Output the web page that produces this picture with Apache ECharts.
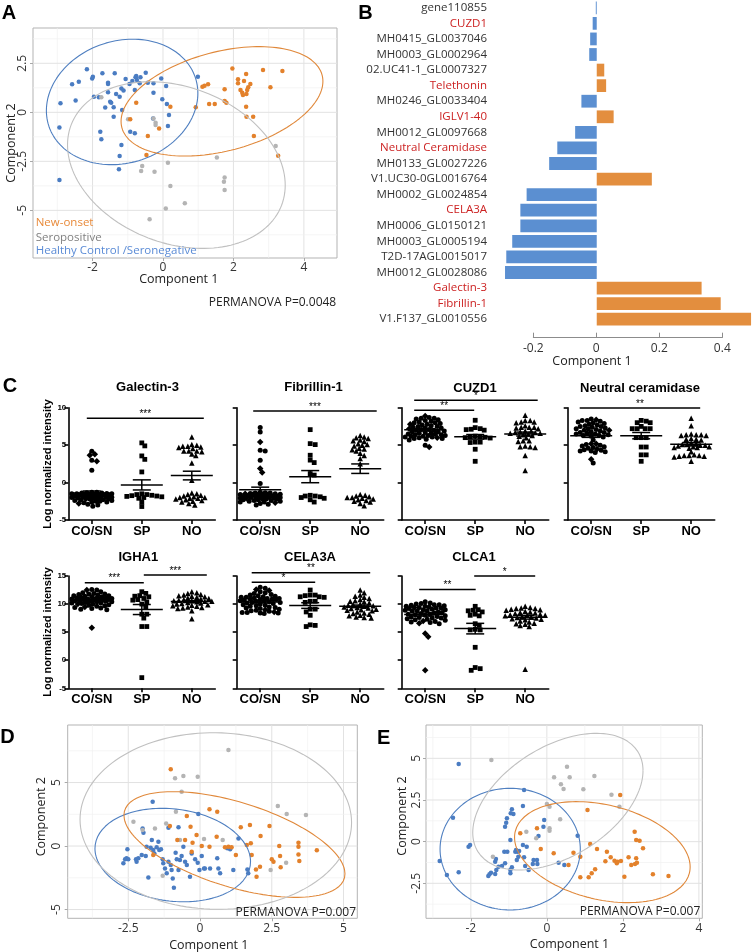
<!DOCTYPE html>
<html><head><meta charset="utf-8">
<script src="https://cdn.jsdelivr.net/npm/echarts@6/dist/echarts.min.js"></script>
<style>html,body{margin:0;padding:0;background:#fff}#c{width:752px;height:952px}</style>
</head><body><div id="c"></div>
<script>
// ================= DATA =================
// Panel A (PLS-DA scores)
const aBlue = [[-2.16,2.19],[-2.58,1.43],[-2.39,1.56],[-2.91,0.46],[-2.48,0.60],[-2.94,-0.78],[-2.94,-3.45],[-2.01,1.73],[-1.99,1.82],[-1.72,1.99],[-1.96,0.80],[-1.82,0.77],[-1.56,1.51],[-1.56,1.45],[-1.37,1.99],[-1.56,1.02],[-1.64,0.24],[-1.50,0.54],[-1.47,0.49],[-1.33,0.94],[-1.40,0.26],[-1.23,0.80],[-1.18,1.22],[-1.12,1.11],[-1.06,1.70],[-0.95,1.45],[-0.87,1.60],[-0.80,1.14],[-0.78,1.79],[-0.74,1.65],[-0.76,1.85],[-0.64,1.79],[-0.66,1.48],[-0.49,2.02],[-0.43,1.51],[-0.27,1.48],[-0.27,1.00],[-0.05,1.73],[-0.02,0.66],[0.09,1.34],[0.11,0.43],[0.17,-0.14],[0.14,-0.70],[0.99,1.82],[-1.40,-0.22],[-1.78,-0.99],[-1.75,-1.38],[-1.18,-1.67],[-1.23,-2.23],[-1.25,-2.91],[-0.93,-0.99],[-0.80,-1.07],[-0.28,-0.31],[-1.16,0.12]];
const aOrange = [[-0.76,0.49],[-0.93,-0.36],[-0.43,-1.21],[-0.47,-2.18],[-0.11,-0.82],[0.21,0.29],[0.93,0.26],[1.12,1.31],[1.18,1.36],[1.28,1.43],[1.31,0.43],[1.47,0.43],[1.75,1.17],[1.75,0.58],[1.80,0.49],[1.97,2.24],[2.13,1.68],[2.20,1.14],[2.25,1.00],[2.13,1.48],[2.30,1.60],[2.36,1.96],[2.37,0.94],[2.39,1.14],[2.42,1.28],[2.48,1.45],[2.36,0.29],[2.37,-0.22],[2.56,-0.22],[2.58,-1.21],[2.84,2.16],[3.05,1.28],[3.39,2.11],[3.27,-2.21],[2.27,0.88]];
const aGray = [[-1.75,0.77],[-0.99,-0.36],[-0.27,-0.31],[-0.21,-0.53],[-0.21,-0.65],[-0.59,-2.74],[-0.62,-2.99],[-0.24,-3.03],[0.14,-2.57],[0.21,-3.76],[0.08,-4.90],[-0.38,-5.46],[0.62,-4.64],[1.53,-2.31],[1.75,-3.32],[1.73,-3.54],[1.75,-3.96],[3.20,-1.72]];
// ellipse params: [cx, cy, halfWidthX, halfHeightY, phase(deg)]
const aEllBlue = [-1.16, 0.53, 2.15, 3.2, 82];
const aEllOrange = [1.675, 0.56, 2.865, 2.79, 68.5];
const aEllGray = [0.38, -2.69, 3.09, 4.25, 104];
const aXTicks = [-2, 0, 2, 4], aXMinor = [-3, -1, 1, 3];
const aYTicks = [-5, -2.5, 0, 2.5], aYMinor = [-6.25, -3.75, -1.25, 1.25, 3.75];

// Panel B (loadings)
const bCats = ['gene110855','CUZD1','MH0415_GL0037046','MH0003_GL0002964','02.UC41-1_GL0007327','Telethonin','MH0246_GL0033404','IGLV1-40','MH0012_GL0097668','Neutral Ceramidase','MH0133_GL0027226','V1.UC30-0GL0016764','MH0002_GL0024854','CELA3A','MH0006_GL0150121','MH0003_GL0005194','T2D-17AGL0015017','MH0012_GL0028086','Galectin-3','Fibrillin-1','V1.F137_GL0010556'];
const bVals = [-0.003,-0.013,-0.021,-0.024,0.024,0.030,-0.049,0.054,-0.069,-0.126,-0.152,0.176,-0.224,-0.244,-0.244,-0.270,-0.289,-0.293,0.335,0.396,0.493];
const bRed = ['CUZD1','Telethonin','IGLV1-40','Neutral Ceramidase','CELA3A','Galectin-3','Fibrillin-1'];
const bTicks = [-0.2, 0, 0.2, 0.4];

// Panel C (log normalized intensity)
const grpNames = ['CO/SN','SP','NO'];
const galCO = [4.18,2.98,1.65,-1.3,-1.3,-1.35,-1.4,-1.4,-1.45,-1.5,-1.5,-1.5,-1.55,-1.6,-1.6,-1.65,-1.7,-1.7,-1.75,-1.8,-1.8,-1.85,-1.9,-1.9,-1.95,-2.0,-2.0,-2.05,-2.1,-2.1,-2.15,-2.2,-2.3,-2.3,-2.4,-2.4,-2.5,-2.5,-2.6,-2.6,-2.7,-2.9,-3.0,-3.15];
const galSN = [3.78,3.65,2.85,-1.6,-2.2,-2.8];
const galSP = [5.3,4.9,3.56,3.1,1.42,-1.5,-1.6,-1.6,-1.7,-1.75,-1.8,-1.85,-1.9,-2.0,-2.1,-2.6,-3.2];
const galNO = [6.1,5.1,5.0,4.85,4.85,4.76,4.67,4.54,4.2,4.2,4.1,4.2,3.8,3.6,2.6,0.3,-1.4,-1.5,-1.6,-1.7,-1.8,-1.9,-2.0,-2.0,-2.1,-2.1,-2.2,-2.3,-2.4,-2.5,-2.6,-2.8,-3.0];
const fibCO = [7.34,6.76,4.3,4.2,2.98,-0.13,-1.3,-1.35,-1.4,-1.4,-1.45,-1.5,-1.55,-1.6,-1.6,-1.65,-1.7,-1.7,-1.75,-1.8,-1.8,-1.85,-1.9,-1.9,-1.95,-2.0,-2.0,-2.0,-2.05,-2.1,-2.15,-2.2,-2.2,-2.3,-2.3,-2.4,-2.4,-2.5,-2.5,-2.6,-2.6,-2.8,-2.9,-3.0];
const fibSN = [5.42,1.87,1.34,-1.5,-2.1,-2.7];
const fibSP = [7.07,5.2,5.07,3.65,3.0,2.67,1.2,1.0,-1.7,-1.8,-1.8,-1.9,-2.0,-2.1,-2.3,-2.6];
const fibNO = [6.3,6.1,6.0,5.9,5.7,5.6,5.5,5.2,5.1,5.0,4.9,4.6,4.5,4.4,4.2,3.9,3.6,3.2,2.5,-1.6,-1.7,-1.8,-1.9,-2.0,-2.0,-2.1,-2.2,-2.3,-2.4,-2.5,-2.6,-2.8,-3.1];
const cuzCO = [8.7,8.6,8.6,8.5,8.4,8.3,8.2,8.1,8.0,8.0,7.9,7.8,7.7,7.6,7.5,7.5,7.4,7.3,7.3,7.1,7.1,7.0,7.0,6.9,6.8,6.8,6.7,6.6,6.6,6.5,6.4,6.4,6.3,6.3,6.2,6.2,6.1,6.1,6.0,5.9,5.9,5.8,5.7,4.98];
const cuzSN = [8.9,7.8,7.2,6.5,6.0,4.76];
const cuzSP = [8.32,7.34,7.2,7.12,7.07,7.0,6.2,6.1,6.1,6.05,6.0,5.95,5.4,5.4,5.35,4.45,2.84];
const cuzNO = [9.0,8.3,8.3,8.1,8.1,8.0,7.6,7.4,7.4,7.4,7.3,7.2,6.9,6.9,6.8,6.7,6.7,6.6,6.6,6.5,6.4,6.3,6.2,6.0,5.6,5.6,5.5,4.9,4.8,4.8,4.7,3.6,1.6];
const ncCO = [8.5,8.3,8.3,8.2,8.1,8.0,7.9,7.8,7.7,7.6,7.5,7.5,7.4,7.3,7.2,7.2,7.1,7.0,6.9,6.8,6.7,6.7,6.6,6.5,6.5,6.4,6.3,6.3,6.2,6.1,5.7,5.1,5.0,4.9,4.8,4.7,4.6,4.4,4.3,4.2,4.2,4.1,4.0,2.6];
const ncSN = [8.4,7.0,5.2,5.2,4.5,3.1];
const ncSP = [8.3,8.2,8.0,8.0,7.5,7.2,7.2,7.2,7.2,6.0,6.0,6.0,4.75,4.75,3.7,3.7,2.84];
const ncNO = [8.6,7.6,6.5,6.4,6.4,6.4,6.3,6.3,5.9,5.8,5.8,5.7,5.3,5.2,5.1,5.1,5.0,5.0,4.9,4.8,4.8,4.7,4.7,4.6,4.1,3.7,3.6,3.6,3.6,3.5,3.5,3.4,2.84];
const igCO = [12.6,12.5,12.2,12.0,11.9,11.8,11.8,11.7,11.6,11.5,11.5,11.4,11.3,11.3,11.2,11.1,11.1,11.0,11.0,10.9,10.9,10.9,10.8,10.8,10.7,10.7,10.6,10.6,10.5,10.5,10.4,10.4,10.3,10.2,10.2,10.1,10.0,9.9,9.8,9.7,9.6,9.4,9.3,9.2,9.1,9.0];
const igSN = [12.5,10.0,9.5,5.8];
const igSP = [12.2,11.9,11.5,11.4,11.3,11.0,10.8,10.7,10.4,10.0,9.5,8.2,8.2,7.5,6.0,6.0,-3.1];
const igNO = [12.2,12.0,11.9,11.7,11.6,11.5,11.4,11.3,11.2,11.1,11.0,10.9,10.8,10.7,10.6,10.6,10.5,10.5,10.4,10.3,10.2,10.1,10.0,9.9,9.8,9.7,9.6,9.5,9.4,9.3,9.2,8.8,7.4];
const ceCO = [13.0,12.8,12.2,12.0,11.9,11.7,11.6,11.5,11.4,11.3,11.2,11.2,11.1,11.0,11.0,10.9,10.9,10.8,10.8,10.7,10.6,10.6,10.5,10.4,10.3,10.3,10.2,10.1,10.0,9.9,9.8,9.7,9.6,9.5,9.4,9.3,9.2,9.1,8.9,8.8,8.7,8.5,8.5,8.4,8.4,8.3];
const ceSN = [12.6,12.4,9.0,8.6];
const ceSP = [12.5,11.6,11.6,11.5,11.3,11.3,11.2,10.5,10.5,10.3,9.1,9.1,8.0,8.6,6.2,6.0,6.3];
const ceNO = [12.5,12.0,11.6,11.4,11.2,11.0,10.8,10.6,10.5,10.4,10.2,10.0,9.9,9.8,9.7,9.6,9.5,9.4,9.3,9.2,9.1,9.0,8.9,8.8,8.6,8.4,8.3,8.2,8.0,7.9,7.7,7.6,7.5];
const clCO = [10.4,10.2,10.1,10.0,9.9,9.9,9.8,9.7,9.6,9.6,9.5,9.3,9.3,9.2,9.1,9.0,9.0,8.9,8.8,8.8,8.7,8.6,8.5,8.4,8.3,8.2,8.2,8.1,8.0,7.9,7.8,7.7,7.6,7.5,7.5,7.4,7.3,7.2,7.1,6.9,6.8,6.7,6.5,9.4];
const clSN = [9.4,7.0,6.6,4.76,4.17,-1.8];
const clSP = [9.6,9.0,8.9,8.8,8.6,8.2,8.0,7.9,6.5,6.2,5.5,5.4,5.4,2.3,-1.3,-1.8,-1.5];
const clNO = [9.6,9.4,9.3,9.2,9.2,9.1,9.0,8.9,8.7,8.6,8.5,8.4,8.3,8.2,8.1,8.0,8.0,7.9,7.8,7.7,7.6,7.5,7.4,7.3,7.2,7.0,6.8,6.6,6.5,6.4,6.2,6.0,-1.6];
// significance brackets: [fromGroup, toGroup, y, label]
const galSig = [[-0.10, 2.24, 8.6, '***']];
const fibSig = [[-0.14, 2.33, 9.56, '***']];
const cuzSig = [[-0.22, 2.25, 11.0, '*'], [-0.22, 0.98, 9.65, '**']];
const ncSig = [[-0.23, 2.18, 9.96, '**']];
const igSig = [[-0.14, 1.04, 13.8, '***'], [1.04, 2.30, 15.2, '***']];
const ceSig = [[-0.17, 2.20, 15.6, '**'], [-0.17, 1.10, 13.9, '*']];
const clSig = [[-0.12, 1.01, 12.6, '**'], [0.98, 2.20, 15.0, '*']];
const cRow1Y = [-5, 10], cRow2Y = [-5, 15];

// Panel D
const dBlue = [[-2.67,-1.36],[-2.61,-1.05],[-2.56,-0.97],[-2.50,-1.05],[-2.53,-0.26],[-2.23,-1.05],[-2.21,-1.23],[-2.15,-0.97],[-2.03,-0.71],[-1.89,-0.79],[-1.86,-0.05],[-1.80,-2.47],[-1.72,-0.13],[-1.68,0.47],[-1.63,-0.31],[-1.59,-0.58],[-1.51,-0.10],[-1.42,-0.31],[-1.36,-0.26],[-1.30,-1.05],[-1.28,-1.36],[-1.22,-1.76],[-1.16,-2.15],[-1.10,-1.23],[-1.02,-1.50],[-0.99,-1.89],[-0.95,-2.55],[-0.91,-3.28],[-0.85,-0.52],[-0.81,-1.05],[-0.75,-1.89],[-0.70,-1.10],[-0.64,-0.79],[-0.58,-0.05],[-0.52,-1.23],[-0.46,-1.50],[-0.35,-2.41],[-0.29,-0.58],[-0.17,-1.05],[-0.08,-1.31],[-0.06,2.52],[-0.02,-1.89],[0.06,-0.79],[0.14,-1.76],[0.17,-1.76],[0.35,-1.76],[0.64,-1.76],[0.70,-2.15],[0.95,-0.18],[1.05,-0.26],[1.16,-1.89],[1.65,-1.84],[1.68,-2.15],[1.34,0.60],[-1.65,3.49],[-2.00,1.39],[-1.97,1.05],[-1.45,0.34],[-1.10,1.44],[-0.75,1.47],[0.60,-0.97]];
const dOrange = [[-1.02,6.04],[-0.46,2.36],[0.33,2.89],[0.60,2.70],[-0.79,0.47],[-0.52,0.47],[-0.29,-0.45],[-0.26,0.26],[-0.12,0.87],[0.06,0.0],[0.33,-0.05],[0.58,0.73],[0.87,-0.10],[0.99,-0.05],[1.10,-0.10],[1.25,-0.71],[1.42,1.47],[1.63,0.08],[1.74,1.65],[1.77,0.21],[1.80,-0.71],[1.95,-1.84],[1.97,-2.41],[2.09,-1.63],[2.11,0.79],[2.42,1.57],[2.50,-1.05],[2.56,-1.23],[2.76,0.0],[2.79,-0.79],[2.81,-1.68],[3.43,0.26],[3.43,-0.05],[3.43,-0.66],[3.46,-1.18],[4.07,-0.34],[-1.63,-0.71],[-1.05,1.57],[-0.33,1.52]];
const dGray = [[0.99,7.56],[-0.87,5.33],[-0.58,5.51],[-0.08,5.46],[-0.64,4.28],[-1.18,1.78],[-1.57,1.39],[-2.00,1.26],[-2.32,1.92],[-0.70,0.47],[0.14,0.55],[0.79,0.47],[2.71,3.15],[3.02,2.52],[3.69,2.44],[2.46,-1.89],[3.00,-1.31],[-1.30,-2.34],[-0.84,2.70]];
const dEllBlue = [-0.95, -0.71, 2.71, 3.68, 98];
const dEllOrange = [1.2, 0.12, 3.85, 4.16, 123.6];
const dEllGray = [0.55, 1.97, 4.73, 6.95, 91];
const dXTicks = [-2.5, 0, 2.5, 5], dXMinor = [-3.75, -1.25, 1.25, 3.75];
const dYTicks = [-5, 0, 5], dYMinor = [-2.5, 2.5, 7.5];

// Panel E
const eBlue = [[-2.32,4.66],[-2.47,1.44],[-2.82,-1.16],[-2.63,-2.0],[-2.32,-1.84],[-2.06,-0.3],[-2.02,-0.2],[-1.54,-2.06],[-1.51,-1.96],[-1.47,-1.86],[-1.36,-1.94],[-1.33,-1.70],[-1.27,-1.50],[-1.36,-1.20],[-1.34,-1.04],[-1.18,-1.46],[-1.10,-1.30],[-0.96,-1.70],[-0.96,-1.90],[-0.92,-1.54],[-1.12,-0.60],[-1.10,0.90],[-1.07,1.14],[-1.05,1.40],[-0.95,1.70],[-0.92,1.94],[-0.88,1.66],[-0.96,0.10],[-0.83,-0.60],[-0.77,-0.60],[-0.79,-1.10],[-0.75,-0.90],[-0.73,-0.56],[-0.63,-0.20],[-0.60,-0.94],[-0.57,-1.46],[-0.53,-0.30],[-0.48,-1.70],[-0.63,2.14],[-0.60,3.10],[-0.35,-1.10],[-0.26,-1.10],[-0.25,-1.34],[-0.37,-1.34],[-0.22,0.34],[-0.09,0.90],[-0.07,1.30],[0.31,-1.26],[0.46,-1.40],[0.81,0.36],[-0.81,-0.5],[-1.04,-0.6]];
const eOrange = [[-0.70,0.50],[-0.26,0.80],[-0.16,-0.44],[0.18,-0.70],[0.57,-1.40],[0.70,-0.66],[0.88,-0.90],[1.07,1.90],[1.14,-0.14],[1.18,-1.90],[1.27,-1.66],[1.32,-0.44],[1.10,-2.14],[0.88,-2.14],[1.54,-1.18],[1.58,-0.60],[1.68,-0.94],[1.78,-1.14],[1.84,-1.30],[1.86,-1.20],[1.95,-1.16],[1.93,2.80],[2.04,-2.10],[2.15,-0.94],[2.22,-1.40],[2.32,-1.34],[2.37,-1.26],[2.31,0.60],[2.35,0.10],[2.44,0.06],[2.53,-0.40],[2.35,-1.00],[2.79,-1.96],[3.20,-2.06]];
const eGray = [[-1.46,4.90],[0.53,4.50],[0.19,3.86],[0.60,3.86],[0.37,3.44],[0.44,3.16],[1.25,3.94],[0.96,3.14],[1.70,2.82],[1.91,2.10],[0.0,2.26],[0.07,2.10],[0.07,0.80],[0.07,0.66],[0.35,1.34],[-0.28,0.20],[-0.54,0.60],[-1.42,-0.90]];
const eEllBlue = [-0.965, -0.45, 1.845, 3.65, 90];
const eEllOrange = [1.46, -0.63, 2.31, 3.03, 107];
const eEllGray = [0.29, 2.4, 2.24, 4.1, 63];
const eXTicks = [-2, 0, 2, 4], eXMinor = [-3, -1, 1, 3];
const eYTicks = [-2.5, 0, 2.5, 5], eYMinor = [-3.75, -1.25, 1.25, 3.75, 6.25];

// ================= STYLE / BUILD =================
const FONT = "'Open Sans', sans-serif";
const ARIAL = "'Liberation Sans', Arial, sans-serif";
const ORANGE = '#E3812B', BLUE = '#4A7CC2', GRAY = '#B4B4B4';
const EL_OR = '#E0883A', EL_BL = '#4F7FC0', EL_GR = '#C0C0C0';
const BAR_BL = '#5B8FD1', BAR_OR = '#E38E3E', RED = '#CC2222';

const grids = [], xAxes = [], yAxes = [], series = [], graphics = [];

function ellipsePts(p) {
  const [cx, cy, A, B, ph] = p; const r = ph * Math.PI / 180; const out = [];
  for (let i = 0; i <= 144; i++) { const t = i / 144 * 2 * Math.PI; out.push([cx + A * Math.cos(t), cy + B * Math.cos(t - r)]); }
  return out;
}

function ggPanel(box, xr, yr, xt, yt, xm, ym, mX, mY) {
  const gi = grids.length;
  grids.push({ left: box[0], top: box[1], width: box[2], height: box[3], show: true, borderColor: '#B3B3B3', borderWidth: 1, backgroundColor: '#fff' });
  const lab = { color: '#333', fontFamily: FONT, fontSize: 12 };
  xAxes.push({ gridIndex: gi, type: 'value', min: xr[0], max: xr[1], axisLine: { show: false, onZero: false }, splitLine: { show: false },
    axisTick: { show: true, customValues: xt, length: 3, lineStyle: { color: '#A8A8A8' } },
    axisLabel: Object.assign({ customValues: xt, margin: mX, formatter: v => String(v) }, lab) });
  yAxes.push({ gridIndex: gi, type: 'value', min: yr[0], max: yr[1], axisLine: { show: false, onZero: false }, splitLine: { show: false },
    axisTick: { show: true, customValues: yt, length: 3, lineStyle: { color: '#A8A8A8' } },
    axisLabel: Object.assign({ customValues: yt, margin: mY, rotate: 90, formatter: v => String(v) }, lab) });
  const gl = [];
  xt.forEach(v => gl.push([v, yr[0], 0, 1])); xm.forEach(v => gl.push([v, yr[0], 0, 0]));
  yt.forEach(v => gl.push([xr[0], v, 1, 1])); ym.forEach(v => gl.push([xr[0], v, 1, 0]));
  series.push({ type: 'custom', xAxisIndex: gi, yAxisIndex: gi, data: gl, silent: true, z: 0,
    renderItem: (params, api) => {
      const cs = params.coordSys; const p = api.coord([api.value(0), api.value(1)]);
      const isY = api.value(2), maj = api.value(3);
      const style = { stroke: maj ? '#E2E2E2' : '#F1F1F1', lineWidth: maj ? 1 : 0.7 };
      return isY ? { type: 'line', shape: { x1: cs.x, y1: p[1], x2: cs.x + cs.width, y2: p[1] }, style }
                 : { type: 'line', shape: { x1: p[0], y1: cs.y, x2: p[0], y2: cs.y + cs.height }, style };
    } });
  return gi;
}
function addPoints(gi, name, data, color) {
  series.push({ type: 'scatter', name, xAxisIndex: gi, yAxisIndex: gi, data, symbolSize: 4.5, itemStyle: { color, opacity: 1 }, z: 2, silent: true });
}
function addEllipse(gi, p, color) {
  series.push({ type: 'line', xAxisIndex: gi, yAxisIndex: gi, data: ellipsePts(p), showSymbol: false, symbol: 'none', lineStyle: { color, width: 1.1 }, z: 3, silent: true });
}

// beeswarm layout (pixel units) computed from the values
function swarm(vals, pxY, d, maxHalf) {
  const idx = vals.map((v, i) => i).sort((a, b) => vals[b] - vals[a]);
  const placed = [], off = new Array(vals.length);
  for (const i of idx) {
    const y = vals[i] * pxY; let best = 0, bestScore = -1;
    for (let k = 0; k <= 2 * maxHalf; k++) {
      const o = (k % 2 === 1 ? 1 : -1) * Math.ceil(k / 2);
      let minD = Infinity;
      for (const q of placed) { const dx = o - q[0], dy = y - q[1]; const dd = Math.sqrt(dx * dx + dy * dy); if (dd < minD) minD = dd; }
      if (minD >= d) { best = o; bestScore = minD; break; }
      if (minD > bestScore) { bestScore = minD; best = o; }
    }
    placed.push([best, y]); off[i] = best;
  }
  return off;
}
function meanSem(v) {
  const n = v.length, m = v.reduce((a, b) => a + b, 0) / n;
  const sd = Math.sqrt(v.reduce((a, b) => a + (b - m) * (b - m), 0) / (n - 1));
  return [m, sd / Math.sqrt(n)];
}

const PX_CAT = 50;
function prismPanel(left, top, yr, showLab, co, sn, sp, no, sig) {
  const gi = grids.length;
  grids.push({ left, top, width: 147, height: 112.3 });
  const ax = { color: '#000', width: 1.6 };
  xAxes.push({ gridIndex: gi, type: 'value', min: -0.47, max: 2.47, splitLine: { show: false },
    axisLine: { show: true, onZero: false, lineStyle: ax },
    axisTick: { show: true, customValues: [0, 1, 2], length: 4, lineStyle: ax },
    axisLabel: { customValues: [0, 1, 2], formatter: v => grpNames[Math.round(v)], margin: 5, fontFamily: ARIAL, fontWeight: 'bold', fontSize: 13, color: '#000' } });
  yAxes.push({ gridIndex: gi, type: 'value', min: yr[0], max: yr[1], interval: 5, splitLine: { show: false },
    axisLine: { show: true, onZero: false, lineStyle: ax },
    axisTick: { show: true, length: 4, lineStyle: ax },
    axisLabel: { show: showLab, margin: 2, fontFamily: ARIAL, fontWeight: 'bold', fontSize: 8, color: '#000' } });
  const pxY = 112.3 / (yr[1] - yr[0]);
  const D = 4.2, MH = 20;
  const coAll = co.concat(sn);
  const offCo = swarm(coAll, pxY, D, MH);
  const coData = [], snData = [];
  coAll.forEach((v, i) => (i < co.length ? coData : snData).push([offCo[i] / PX_CAT, v]));
  const offSp = swarm(sp, pxY, D, MH), offNo = swarm(no, pxY, D, MH);
  const spData = sp.map((v, i) => [1 + offSp[i] / PX_CAT, v]);
  const noData = no.map((v, i) => [2 + offNo[i] / PX_CAT, v]);
  const base = { type: 'scatter', xAxisIndex: gi, yAxisIndex: gi, silent: true, itemStyle: { color: '#000', opacity: 1 }, z: 2 };
  series.push(Object.assign({ data: coData, symbol: 'circle', symbolSize: 5 }, base));
  series.push(Object.assign({ data: snData, symbol: 'diamond', symbolSize: 6.5 }, base));
  series.push(Object.assign({ data: spData, symbol: 'rect', symbolSize: 4.8 }, base));
  series.push(Object.assign({ data: noData, symbol: 'triangle', symbolSize: 5.5 }, base));
  const stats = [coAll, sp, no].map((g, i) => { const [m, s] = meanSem(g); return [i, m, s]; });
  series.push({ type: 'custom', xAxisIndex: gi, yAxisIndex: gi, data: stats, silent: true, z: 4,
    renderItem: (params, api) => {
      const c = api.value(0), m = api.value(1), s = api.value(2);
      const st = { stroke: '#000', lineWidth: 1.5 };
      const L = (a, b) => { const p = api.coord(a), q = api.coord(b); return { type: 'line', shape: { x1: p[0], y1: p[1], x2: q[0], y2: q[1] }, style: st }; };
      return { type: 'group', children: [
        L([c - 0.42, m], [c + 0.42, m]), L([c, m - s], [c, m + s]),
        L([c - 0.18, m + s], [c + 0.18, m + s]), L([c - 0.18, m - s], [c + 0.18, m - s])] };
    } });
  series.push({ type: 'custom', xAxisIndex: gi, yAxisIndex: gi, data: sig.map(s => [s[0], s[2], s[1]]), silent: true, z: 4,
    renderItem: (params, api) => {
      const p = api.coord([api.value(0), api.value(1)]), q = api.coord([api.value(2), api.value(1)]);
      const lbl = sig[params.dataIndex][3];
      return { type: 'group', children: [
        { type: 'line', shape: { x1: p[0], y1: p[1], x2: q[0], y2: p[1] }, style: { stroke: '#000', lineWidth: 1.5 } },
        { type: 'text', style: { text: lbl, x: (p[0] + q[0]) / 2, y: p[1] - 4, align: 'center', verticalAlign: 'middle', textAlign: 'center', textVerticalAlign: 'middle', fontSize: 10, fontFamily: ARIAL, fill: '#000' } }] };
    } });
  return gi;
}

// ---- Panel A
const gA = ggPanel([33, 28, 304, 230], [-3.69, 4.94], [-7.43, 4.3], aXTicks, aYTicks, aXMinor, aYMinor, 4, 4);
addPoints(gA, 'Healthy Control /Seronegative', aBlue, BLUE);
addPoints(gA, 'Seropositive', aGray, GRAY);
addPoints(gA, 'New-onset', aOrange, ORANGE);
addEllipse(gA, aEllBlue, EL_BL); addEllipse(gA, aEllOrange, EL_OR); addEllipse(gA, aEllGray, EL_GR);

// ---- Panel B
const gB = grids.length;
grids.push({ left: 490, top: 0, width: 262, height: 327 });
xAxes.push({ gridIndex: gB, type: 'value', min: -0.341, max: 0.496, show: false, splitLine: { show: false } });
yAxes.push({ gridIndex: gB, type: 'category', data: bCats, inverse: true, axisLine: { show: false, onZero: false }, axisTick: { show: false },
  axisLabel: { interval: 0, margin: 3, fontFamily: FONT, fontSize: 11.5, color: (v) => bRed.includes(v) ? RED : '#333' } });
series.push({ type: 'bar', xAxisIndex: gB, yAxisIndex: gB, barCategoryGap: '18%', silent: true,
  data: bVals.map(v => ({ value: v, itemStyle: { color: v < 0 ? BAR_BL : BAR_OR } })) });
const gB2 = grids.length;
grids.push({ left: 533.3, top: 300, width: 189, height: 37.7 });
xAxes.push({ gridIndex: gB2, type: 'value', min: -0.2, max: 0.4, interval: 0.2, splitLine: { show: false },
  axisLine: { show: true, onZero: false, lineStyle: { color: '#8C8C8C' } },
  axisTick: { show: true, inside: true, length: 5, lineStyle: { color: '#8C8C8C' } },
  axisLabel: { customValues: bTicks, margin: 5, fontFamily: FONT, fontSize: 12, color: '#333', formatter: v => String(Math.round(v * 10) / 10) } });
yAxes.push({ gridIndex: gB2, type: 'value', show: false, min: 0, max: 1 });

// ---- Panel C
prismPanel(68.3, 407.7, cRow1Y, true, galCO, galSN, galSP, galNO, galSig);
prismPanel(236.7, 407.7, cRow1Y, false, fibCO, fibSN, fibSP, fibNO, fibSig);
prismPanel(401.7, 407.7, cRow1Y, false, cuzCO, cuzSN, cuzSP, cuzNO, cuzSig);
prismPanel(567.7, 407.7, cRow1Y, false, ncCO, ncSN, ncSP, ncNO, ncSig);
prismPanel(68.3, 576, cRow2Y, true, igCO, igSN, igSP, igNO, igSig);
prismPanel(236.7, 576, cRow2Y, false, ceCO, ceSN, ceSP, ceNO, ceSig);
prismPanel(401.7, 576, cRow2Y, false, clCO, clSN, clSP, clNO, clSig);

// ---- Panel D
const gD = ggPanel([67.7, 725, 289.6, 193.3], [-4.61, 5.48], [-5.69, 9.53], dXTicks, dYTicks, dXMinor, dYMinor, 4, 5);
addPoints(gD, 'Healthy Control /Seronegative', dBlue, BLUE);
addPoints(gD, 'Seropositive', dGray, GRAY);
addPoints(gD, 'New-onset', dOrange, ORANGE);
addEllipse(gD, dEllBlue, EL_BL); addEllipse(gD, dEllOrange, EL_OR); addEllipse(gD, dEllGray, EL_GR);

// ---- Panel E
const gE = ggPanel([426, 725, 276.3, 193.3], [-3.18, 4.09], [-4.6, 7.0], eXTicks, eYTicks, eXMinor, eYMinor, 4, 3);
addPoints(gE, 'Healthy Control /Seronegative', eBlue, BLUE);
addPoints(gE, 'Seropositive', eGray, GRAY);
addPoints(gE, 'New-onset', eOrange, ORANGE);
addEllipse(gE, eEllBlue, EL_BL); addEllipse(gE, eEllOrange, EL_OR); addEllipse(gE, eEllGray, EL_GR);

// ---- Texts
function txt(text, x, y, opt) {
  opt = opt || {};
  graphics.push({ type: 'text', x, y, rotation: opt.rot || 0, z: 10, silent: true,
    style: { text, fill: opt.color || '#222', fontSize: opt.size || 12, fontWeight: opt.weight || 'normal', fontFamily: opt.font || FONT,
      align: opt.align || 'center', verticalAlign: 'middle', textAlign: opt.align || 'center', textVerticalAlign: 'middle' } });
}
const LET = { size: 20, weight: 'bold', font: ARIAL, color: '#000' };
txt('A', 9, 13, LET); txt('B', 365.5, 13, LET); txt('C', 10, 386, LET); txt('D', 7.5, 737, LET); txt('E', 383.7, 738.3, LET);
txt('Component 1', 178.8, 279, { size: 12.5 });
txt('Component 2', 11, 143, { size: 12.5, rot: Math.PI / 2 });
txt('PERMANOVA P=0.0048', 272.5, 303, { size: 12 });
txt('New-onset', 35.7, 222.7, { size: 11.5, align: 'left', color: '#E88A3A' });
txt('Seropositive', 35.7, 237.3, { size: 11.5, align: 'left', color: '#808080' });
txt('Healthy Control /Seronegative', 35.7, 250.7, { size: 11.5, align: 'left', color: '#5A8BD6' });
txt('Component 1', 592, 361, { size: 12.5 });
const TT = { size: 13, weight: 'bold', font: ARIAL, color: '#000' };
txt('Galectin-3', 147.5, 387, TT); txt('Fibrillin-1', 313.5, 387, TT); txt('CUZD1', 475, 388, TT); txt('Neutral ceramidase', 640, 388, TT);
txt('IGHA1', 138.3, 557, TT); txt('CELA3A', 310, 557, TT); txt('CLCA1', 474, 557, TT);
txt('Log normalized intensity', 47.5, 464, { size: 11, weight: 'bold', font: ARIAL, color: '#000', rot: Math.PI / 2 });
txt('Log normalized intensity', 47.5, 632, { size: 11, weight: 'bold', font: ARIAL, color: '#000', rot: Math.PI / 2 });
txt('Component 1', 208.8, 945, { size: 12.5 });
txt('Component 2', 41.7, 816.7, { size: 12.5, rot: Math.PI / 2 });
txt('PERMANOVA P=0.007', 295.8, 912.7, { size: 12 });
txt('Component 1', 569.5, 944.3, { size: 12.5 });
txt('Component 2', 402, 816, { size: 12.5, rot: Math.PI / 2 });
txt('PERMANOVA P=0.007', 640, 911.7, { size: 12 });

const chart = echarts.init(document.getElementById('c'), null, { renderer: 'canvas' });
chart.setOption({ animation: false, backgroundColor: '#fff', textStyle: { fontFamily: FONT },
  grid: grids, xAxis: xAxes, yAxis: yAxes, series, graphic: graphics });
</script></body></html>
